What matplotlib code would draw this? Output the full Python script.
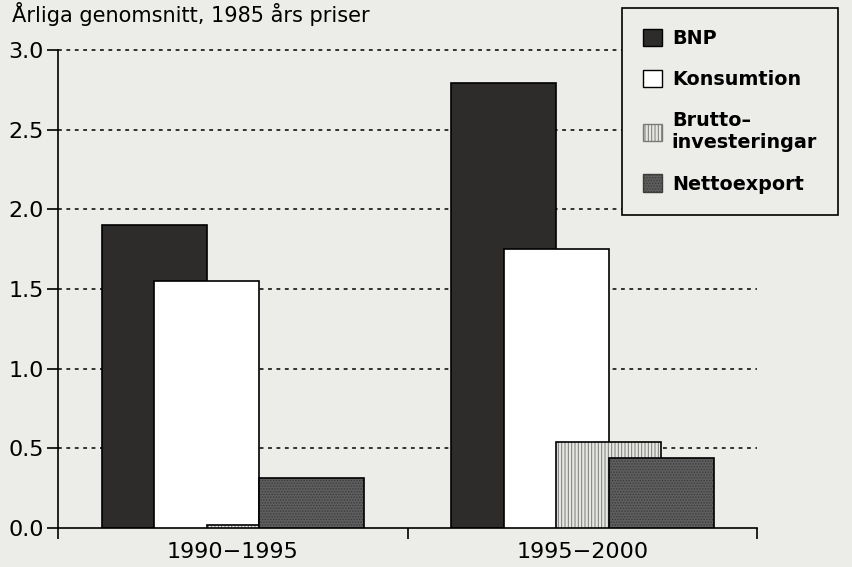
import numpy as np
import matplotlib.pyplot as plt
from matplotlib.patches import Patch

plt.rcParams['font.family'] = ['DejaVu Sans']
plt.rcParams['hatch.linewidth'] = 0.7

periods = ['1990\u22121995', '1995\u22122000']
series = ['BNP', 'Konsumtion', 'Brutto\u2013\ninvesteringar', 'Nettoexport']
bnp = [1.90, 2.79]
konsumtion = [1.55, 1.75]
brutto = [0.015, 0.54]
netto = [0.31, 0.44]

values = [bnp, konsumtion, brutto, netto]
faces = ['#2e2b2b', 'white', '#e6e6e2', '#5e5e5e']
hatches = [None, None, '|||||', '......']
hatch_cols = ['#2e2b2b', 'black', '#7a7a7a', '#3c3c3c']

bg = '#ecece8'
fig = plt.figure(figsize=(8.52, 5.67), dpi=100, facecolor=bg)
ax = fig.add_axes([0.068, 0.069, 0.821, 0.843], facecolor=bg)

centers = np.array([0.5, 1.5])
w = 0.30
offs = [-0.225, -0.075, 0.075, 0.225]

for y in np.arange(0.5, 3.01, 0.5):
    ax.plot([0, 2], [y, y], ls=(0, (2.5, 3)), color='black', lw=1.1,
            zorder=0, clip_on=False)

for k in range(4):
    x = centers + offs[k]
    if hatches[k]:
        ax.bar(x, values[k], w, color=faces[k], edgecolor=hatch_cols[k],
               hatch=hatches[k], linewidth=0, zorder=2 + k)
        ax.bar(x, values[k], w, color='none', edgecolor='black',
               linewidth=1.2, zorder=2 + k)
    else:
        ax.bar(x, values[k], w, color=faces[k], edgecolor='black',
               linewidth=1.2, zorder=2 + k)

ax.set_xlim(0, 2)
ax.set_ylim(0, 3.0)
for s in ['top', 'right']:
    ax.spines[s].set_visible(False)
ax.spines['left'].set_linewidth(1.2)
ax.spines['bottom'].set_linewidth(1.2)

ax.set_yticks(np.arange(0, 3.01, 0.5))
ax.set_yticklabels(['%.1f' % v for v in np.arange(0, 3.01, 0.5)], fontsize=16)
ax.tick_params(axis='y', direction='out', length=8, width=1.2, pad=2)

ax.set_xticks([0, 1, 2])
ax.set_xticklabels(['', '', ''])
ax.set_xticks(centers, minor=True)
ax.set_xticklabels(periods, minor=True, fontsize=16)
ax.tick_params(axis='x', which='major', direction='out', length=8, width=1.2)
ax.tick_params(axis='x', which='minor', length=0, pad=10)

fig.text(0.014, 0.997, '\u00c5rliga genomsnitt, 1985 \u00e5rs priser',
         fontsize=15, va='top', ha='left')

handles = [Patch(facecolor=faces[k], edgecolor='black' if k < 2 else hatch_cols[k],
                 hatch=hatches[k], linewidth=1) for k in range(4)]
leg = fig.legend(handles, series, loc='upper left', bbox_to_anchor=(0.730, 0.986),
                 borderaxespad=0, fontsize=13.8, frameon=True, fancybox=False,
                 edgecolor='black', facecolor=bg, framealpha=1,
                 handlelength=1.0, handleheight=1.0, labelspacing=1.15,
                 borderpad=1.1, handletextpad=0.5)
leg.get_frame().set_linewidth(1.2)
for t in leg.get_texts():
    t.set_fontweight('bold')

fig.savefig('out.png', dpi=100, facecolor=bg)
